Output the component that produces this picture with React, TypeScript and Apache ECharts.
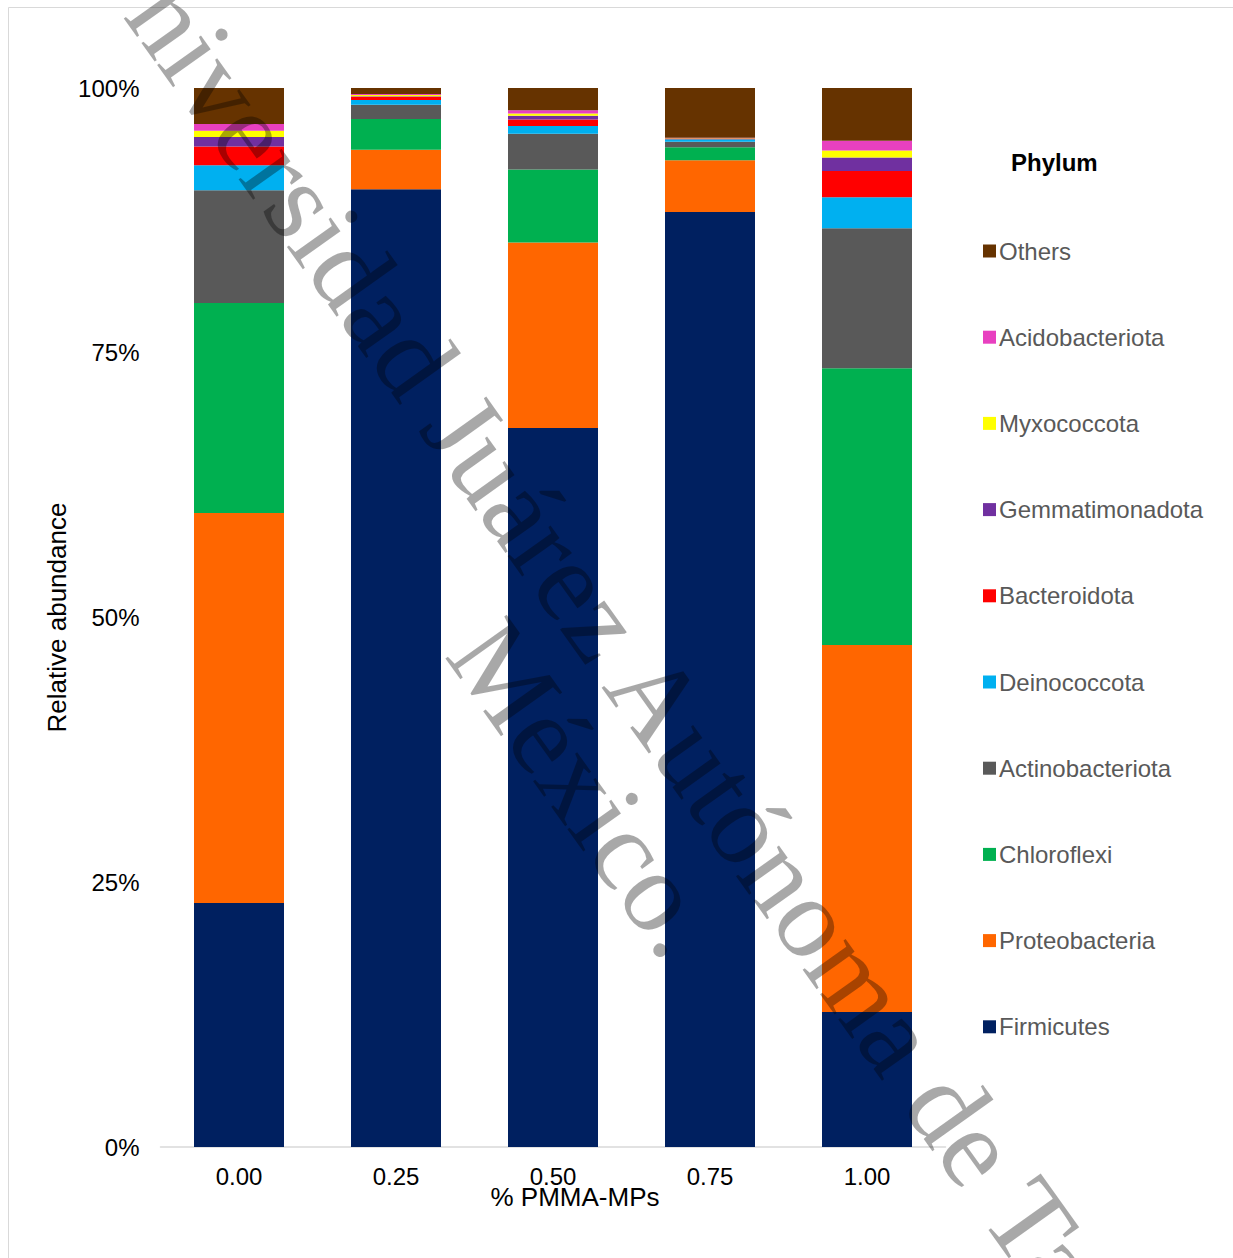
import React, { useEffect, useRef } from "react";
import * as echarts from "echarts";

const categories = ["0.00", "0.25", "0.50", "0.75", "1.00"];
const yTicks = [0, 25, 50, 75, 100];

const firmicutes = [23.04, 90.43, 67.89, 88.29, 12.75];
const proteobacteria = [36.83, 3.75, 17.53, 4.88, 34.66];
const chloroflexi = [19.83, 2.9, 6.89, 1.23, 26.13];
const actinobacteriota = [10.64, 1.35, 3.37, 0.53, 13.22];
const deinococcota = [2.37, 0.44, 0.72, 0.22, 2.93];
const bacteroidota = [1.76, 0.31, 0.63, 0.08, 2.48];
const gemmatimonadota = [0.9, 0.05, 0.34, 0.03, 1.26];
const myxococcota = [0.6, 0.1, 0.22, 0.01, 0.66];
const acidobacteriota = [0.63, 0.1, 0.31, 0.03, 0.94];
const others = [3.4, 0.57, 2.1, 4.7, 4.97];

const seriesNames = [
  "Firmicutes",
  "Proteobacteria",
  "Chloroflexi",
  "Actinobacteriota",
  "Deinococcota",
  "Bacteroidota",
  "Gemmatimonadota",
  "Myxococcota",
  "Acidobacteriota",
  "Others",
];
const seriesValues = [
  firmicutes,
  proteobacteria,
  chloroflexi,
  actinobacteriota,
  deinococcota,
  bacteroidota,
  gemmatimonadota,
  myxococcota,
  acidobacteriota,
  others,
];
const seriesColors = [
  "#002060",
  "#FF6600",
  "#00B050",
  "#595959",
  "#00B0F0",
  "#FF0000",
  "#7030A0",
  "#FFFF00",
  "#E840C0",
  "#663300",
];

const FONT = "'Liberation Sans', Arial, sans-serif";

export default function App() {
  const ref = useRef<HTMLDivElement>(null);
  useEffect(() => {
    if (!ref.current) return;
    const chart = echarts.init(ref.current, null, { renderer: "svg" });
    const rot = (-54.5 * Math.PI) / 180;
    chart.setOption({
      animation: false,
      backgroundColor: "#ffffff",
      textStyle: { fontFamily: FONT },
      title: {
        text: "Phylum",
        left: 1011,
        top: 150,
        padding: 0,
        textStyle: { fontFamily: FONT, fontSize: 24, fontWeight: "bold", color: "#000000" },
      },
      legend: {
        orient: "vertical",
        left: 983,
        top: 238,
        padding: 0,
        itemWidth: 13,
        itemHeight: 13,
        itemGap: 60.2,
        icon: "rect",
        data: seriesNames.slice().reverse(),
        textStyle: { fontFamily: FONT, fontSize: 24, color: "#595959", lineHeight: 26, padding: [0, 0, 0, -2] },
      },
      grid: { left: 160.5, right: 287.5, top: 88, bottom: 111, containLabel: false },
      xAxis: {
        type: "category",
        data: categories,
        name: "% PMMA-MPs",
        nameLocation: "middle",
        nameGap: 37,
        nameMoveOverlap: false,
        nameTextStyle: { fontFamily: FONT, fontSize: 26, color: "#000000", padding: [0, 0, 0, 44] },
        axisLine: { show: true, lineStyle: { color: "#d9d9d9", width: 1.5 } },
        axisTick: { show: false },
        axisLabel: { fontFamily: FONT, fontSize: 24, color: "#000000", margin: 17 },
      },
      yAxis: {
        type: "value",
        min: yTicks[0],
        max: yTicks[yTicks.length - 1],
        interval: 25,
        name: "Relative abundance",
        nameLocation: "middle",
        nameGap: 91,
        nameMoveOverlap: false,
        nameTextStyle: { fontFamily: FONT, fontSize: 26, color: "#000000" },
        axisLine: { show: false },
        axisTick: { show: false },
        splitLine: { show: false },
        axisLabel: { fontFamily: FONT, fontSize: 24, color: "#000000", margin: 21, formatter: "{value}%" },
      },
      series: seriesNames.map((name, i) => ({
        name,
        type: "bar",
        stack: "total",
        barWidth: 90,
        data: seriesValues[i],
        itemStyle: { color: seriesColors[i] },
        emphasis: { disabled: true },
      })),
      graphic: [
        {
          type: "rect",
          z: -10,
          silent: true,
          shape: { x: 8.5, y: 7.5, width: 1400, height: 1400 },
          style: { fill: "none", stroke: "#d9d9d9", lineWidth: 1 },
        },
        {
          type: "text",
          z: 100,
          silent: true,
          x: 630,
          y: 756,
          rotation: rot,
          style: {
            text: "Universidad Juárez Autónoma de Tabasco.\nMéxico.",
            fontFamily: "'Liberation Serif', 'Times New Roman', serif",
            fontSize: 115,
            lineHeight: 110,
            fill: "rgba(0,0,0,0.34)",
            align: "center",
            verticalAlign: "middle",
          },
        },
      ],
    });
    return () => chart.dispose();
  }, []);
  return (
    <div
      ref={ref}
      style={{ position: "absolute", left: 0, top: 0, width: 1233, height: 1258 }}
    />
  );
}
